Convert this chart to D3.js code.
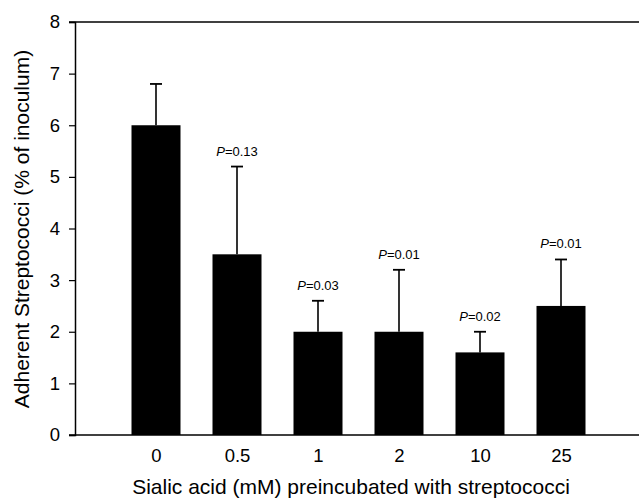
<!DOCTYPE html>
<html><head><meta charset="utf-8">
<script src="https://cdn.jsdelivr.net/npm/d3@7"></script>
<style>body{margin:0;background:#fff}svg{display:block;font-family:Arial,"Liberation Sans",sans-serif}</style>
</head><body><svg id="c" width="639" height="499"></svg>
<script>
const categories = ["0", "0.5", "1", "2", "10", "25"];
const values = [6.0, 3.5, 2.0, 2.0, 1.6, 2.5];
const errorTops = [6.8, 5.2, 2.6, 3.2, 2.0, 3.4];
const pLabels = [null, "0.13", "0.03", "0.01", "0.02", "0.01"];
const yTicks = [0, 1, 2, 3, 4, 5, 6, 7, 8];

(function () {
const svg = d3.select("#c");
const FONT = "Arial, 'Liberation Sans', sans-serif";
const mLeft = 75, mRight = 642, mTop = 22, mBottom = 435;
const x = d3.scalePoint().domain(categories).range([mLeft, mRight]).padding(1);
const y = d3.scaleLinear().domain([0, 8]).range([mBottom, mTop]);
const barW = 49;

// y axis
const yAxis = svg.append("g").attr("transform", `translate(${mLeft},0)`)
  .call(d3.axisLeft(y).tickValues(yTicks).tickSize(6).tickPadding(9).tickFormat(d3.format("d")));
yAxis.select(".domain").attr("stroke", "#000").attr("stroke-width", 1.5);
yAxis.selectAll(".tick line").attr("stroke-width", 1.2);
yAxis.selectAll("text").attr("font-size", 18.5).attr("fill", "#000").attr("font-family", FONT);

// top and bottom frame lines
svg.append("line").attr("x1", mLeft - 6).attr("x2", 639).attr("y1", y(8)).attr("y2", y(8)).attr("stroke", "#000").attr("stroke-width", 1.5);
svg.append("line").attr("x1", mLeft - 6).attr("x2", 639).attr("y1", y(0)).attr("y2", y(0)).attr("stroke", "#000").attr("stroke-width", 1.5);

// x labels
const xAxis = svg.append("g").attr("transform", `translate(0,${mBottom})`)
  .call(d3.axisBottom(x).tickSize(0).tickPadding(14));
xAxis.select(".domain").remove();
xAxis.selectAll("text").attr("font-size", 18.5).attr("fill", "#000").attr("font-family", FONT);

// error bars
const eb = svg.append("g");
categories.forEach((c, i) => {
  const cx = x(c);
  eb.append("line").attr("x1", cx).attr("x2", cx).attr("y1", y(values[i])).attr("y2", y(errorTops[i])).attr("stroke", "#000").attr("stroke-width", 1.6);
  eb.append("line").attr("x1", cx - 6).attr("x2", cx + 6).attr("y1", y(errorTops[i])).attr("y2", y(errorTops[i])).attr("stroke", "#000").attr("stroke-width", 1.8);
});

// bars
svg.append("g").selectAll("rect").data(categories).join("rect")
  .attr("x", d => x(d) - barW / 2).attr("width", barW)
  .attr("y", (d, i) => y(values[i])).attr("height", (d, i) => y(0) - y(values[i]))
  .attr("fill", "#000");

// P labels
categories.forEach((c, i) => {
  if (!pLabels[i]) return;
  const t = svg.append("text").attr("x", x(c)).attr("y", y(errorTops[i]) - 11)
    .attr("text-anchor", "middle").attr("font-size", 13).attr("fill", "#000");
  t.append("tspan").attr("font-style", "italic").text("P");
  t.append("tspan").text("=" + pLabels[i]);
});

// axis titles
svg.append("text").attr("x", 351).attr("y", 494).attr("text-anchor", "middle")
  .attr("font-size", 21).attr("fill", "#000").text("Sialic acid (mM) preincubated with streptococci");
svg.append("text").attr("transform", `translate(29,229) rotate(-90)`).attr("text-anchor", "middle")
  .attr("font-size", 21).attr("fill", "#000").text("Adherent Streptococci (% of inoculum)");
})();
</script></body></html>
